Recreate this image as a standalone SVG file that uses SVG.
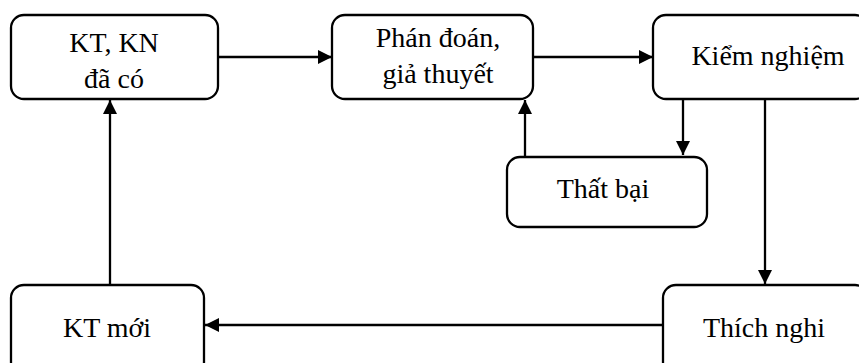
<svg xmlns="http://www.w3.org/2000/svg" width="859" height="363" viewBox="0 0 859 363">
  <defs>
    <marker id="arrow" viewBox="0 0 14 14" refX="14" refY="7" markerWidth="14" markerHeight="14" markerUnits="userSpaceOnUse" orient="auto">
      <path d="M0,0 L14,7 L0,14 Z" fill="#000"/>
    </marker>
  </defs>
  <style>
    .box { fill: #fff; stroke: #000; stroke-width: 2.3; }
    .edge { fill: none; stroke: #000; stroke-width: 2.3; marker-end: url(#arrow); }
    .lbl { font-family: 'Liberation Serif', serif; font-size: 28px; fill: #000; text-anchor: middle; }
  </style>

  <!-- flow arrows between the steps -->
  <g id="connectors">
    <line class="edge" x1="218" y1="57" x2="332" y2="57"/>
    <line class="edge" x1="533" y1="57" x2="653" y2="57"/>
    <line class="edge" x1="683" y1="99" x2="683" y2="155"/>
    <line class="edge" x1="525" y1="156" x2="525" y2="100"/>
    <line class="edge" x1="765" y1="99" x2="765" y2="284"/>
    <line class="edge" x1="663" y1="325" x2="205" y2="325"/>
    <line class="edge" x1="110" y1="285" x2="110" y2="100"/>
  </g>

  <g id="kt-kn">
    <rect class="box" x="11" y="15" width="207" height="84" rx="13"/>
    <text class="lbl" x="114" y="52">KT, KN</text>
    <text class="lbl" x="114" y="88">đã có</text>
  </g>
  <g id="phan-doan">
    <rect class="box" x="332" y="15" width="201" height="84" rx="13"/>
    <text class="lbl" x="438" y="47">Phán đoán,</text>
    <text class="lbl" x="438" y="83">giả thuyết</text>
  </g>
  <g id="kiem-nghiem">
    <rect class="box" x="653" y="15" width="215" height="84" rx="13"/>
    <text class="lbl" x="768" y="65">Kiểm nghiệm</text>
  </g>
  <g id="that-bai">
    <rect class="box" x="507" y="157" width="200" height="70" rx="13"/>
    <text class="lbl" x="603" y="198">Thất bại</text>
  </g>
  <g id="kt-moi">
    <rect class="box" x="11" y="285" width="193" height="90" rx="13"/>
    <text class="lbl" x="107" y="337">KT mới</text>
  </g>
  <g id="thich-nghi">
    <rect class="box" x="663" y="285" width="205" height="90" rx="13"/>
    <text class="lbl" x="764" y="337">Thích nghi</text>
  </g>
</svg>
